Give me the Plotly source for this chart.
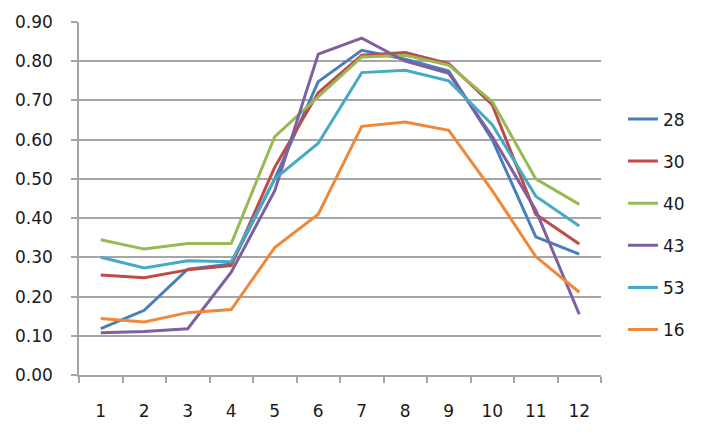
import plotly.graph_objects as go

months = ["1", "2", "3", "4", "5", "6", "7", "8", "9", "10", "11", "12"]
y_ticks = [0.0, 0.1, 0.2, 0.3, 0.4, 0.5, 0.6, 0.7, 0.8, 0.9]

s28 = [0.118, 0.165, 0.270, 0.283, 0.500, 0.748, 0.828, 0.805, 0.775, 0.600, 0.352, 0.308]
s30 = [0.255, 0.248, 0.268, 0.279, 0.530, 0.720, 0.815, 0.822, 0.794, 0.689, 0.410, 0.334]
s40 = [0.345, 0.321, 0.335, 0.335, 0.608, 0.710, 0.811, 0.815, 0.790, 0.697, 0.500, 0.435]
s43 = [0.108, 0.111, 0.118, 0.262, 0.470, 0.818, 0.859, 0.800, 0.769, 0.608, 0.420, 0.155]
s53 = [0.300, 0.273, 0.291, 0.289, 0.500, 0.591, 0.771, 0.777, 0.750, 0.638, 0.456, 0.380]
s16 = [0.144, 0.135, 0.159, 0.167, 0.325, 0.410, 0.634, 0.645, 0.624, 0.470, 0.302, 0.211]

series = [
    ("28", s28, "#4A7EBB"),
    ("30", s30, "#BE4B48"),
    ("40", s40, "#98B954"),
    ("43", s43, "#7D60A0"),
    ("53", s53, "#46AAC5"),
    ("16", s16, "#F0883A"),
]

fig = go.Figure()
for name, vals, color in series:
    fig.add_trace(go.Scatter(
        x=months, y=vals, name=name, mode="lines",
        line=dict(color=color, width=3),
        legendgroup=name,
    ))

font_family = "DejaVu Sans"
fig.update_layout(
    width=709, height=436,
    margin=dict(l=79, r=108, t=20, b=61),
    paper_bgcolor="white", plot_bgcolor="white",
    font=dict(family=font_family, size=17, color="#1a1a1a"),
    showlegend=True,
    legend=dict(
        x=1.042, xanchor="left", y=0.775, yanchor="top",
        font=dict(size=17), tracegroupgap=17,
        bgcolor="rgba(0,0,0,0)",
    ),
)
fig.update_xaxes(
    type="category", range=[-0.5, len(months) - 0.5],
    showgrid=False, showline=True,
    linecolor="#A6A6A6", linewidth=1.5,
    ticks="outside", tickson="boundaries", ticklen=6, tickcolor="#A6A6A6", tickwidth=1.5,
    ticklabelstandoff=20, zeroline=False,
)
fig.update_yaxes(
    range=[0, 0.9], tickvals=y_ticks, tickformat=".2f",
    showgrid=True, gridcolor="#A6A6A6", gridwidth=1.5,
    showline=True, linecolor="#A6A6A6", linewidth=1.5,
    ticks="outside", ticklen=6, tickcolor="#A6A6A6", tickwidth=1.5,
    ticklabelstandoff=15, zeroline=False,
)

fig.write_html("out.html")
